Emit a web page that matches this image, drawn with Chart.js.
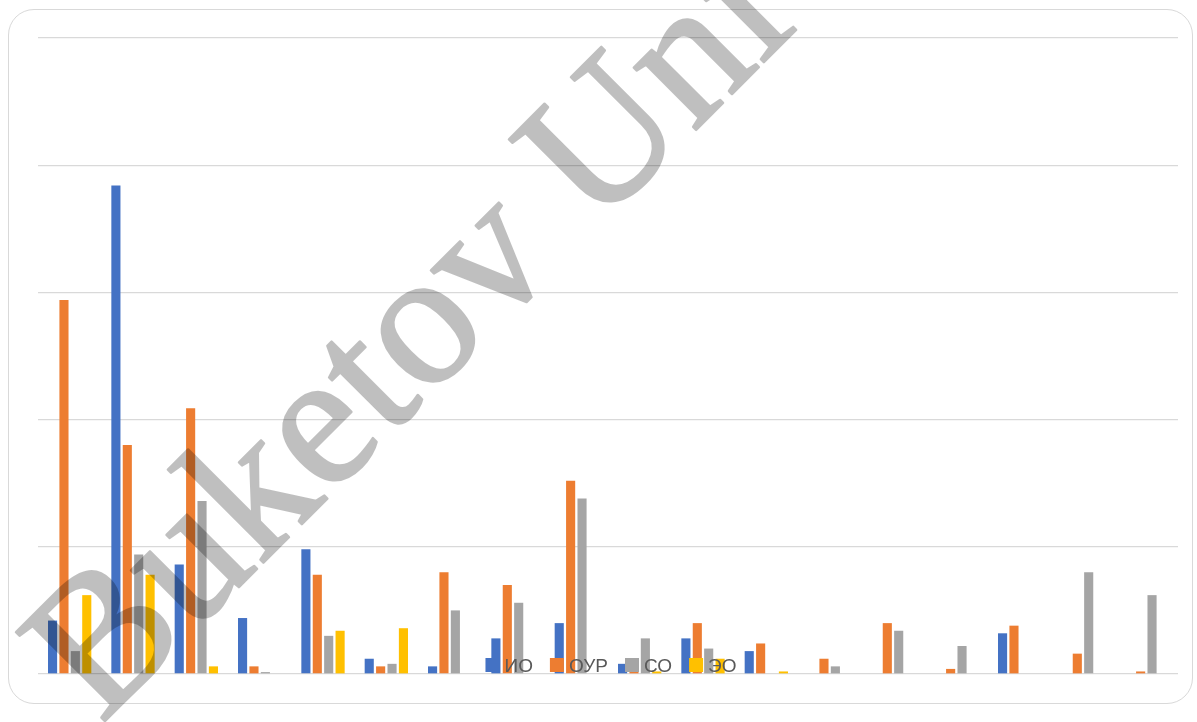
<!DOCTYPE html>
<html lang="ru">
<head>
  <meta charset="UTF-8" />
  <title>ИО / ОУР / СО / ЭО</title>
  <script src="https://cdn.jsdelivr.net/npm/chart.js"></script>
  <style>
    html, body {
      margin: 0;
      padding: 0;
      background: #ffffff;
    }
    .wrap {
      position: relative;
      width: 1197px;
      height: 722px;
    }
    .frame {
      position: absolute;
      left: 8px;
      top: 9px;
      width: 1183px;
      height: 693px;
      border: 1.3px solid #d9d9d9;
      border-radius: 26px;
    }
    canvas {
      position: absolute;
      left: 0;
      top: 0;
    }
  </style>
</head>
<body>
  <div class="wrap">
    <div class="frame"></div>
    <canvas id="chart" width="1197" height="722"></canvas>
  </div>

  <script>
    // категории (подписи на оси не показаны)
    const categories = ['1','2','3','4','5','6','7','8','9','10','11','12','13','14','15','16','17','18'];

    const seriesNames = ['ИО', 'ОУР', 'СО', 'ЭО'];
    const seriesColors = ['#4472C4', '#ED7D31', '#A5A5A5', '#FFC000'];

    const io  = [4.2, 38.4, 8.6, 4.4, 9.8, 1.2, 0.6, 2.8, 4.0, 0.8, 2.8, 1.8, 0, 0, 0, 3.2, 0, 0];
    const our = [29.4, 18.0, 20.9, 0.6, 7.8, 0.6, 8.0, 7.0, 15.2, 0.4, 4.0, 2.4, 1.2, 4.0, 0.4, 3.8, 1.6, 0.2];
    const so  = [1.8, 9.4, 13.6, 0.15, 3.0, 0.8, 5.0, 5.6, 13.8, 2.8, 2.0, 0, 0.6, 3.4, 2.2, 0, 8.0, 6.2];
    const eo  = [6.2, 7.8, 0.6, 0, 3.4, 3.6, 0, 0, 0, 0.2, 1.2, 0.2, 0, 0, 0, 0, 0, 0];

    const yMax = 50;
    const yStep = 10;

    const watermarkText = 'Buketov Uni';

    // легенда поверх области построения, как в оригинале
    const innerLegend = {
      id: 'innerLegend',
      afterDatasetsDraw(chart) {
        const ctx = chart.ctx;
        const area = chart.chartArea;
        const box = 14, gapText = 5, gapItem = 17;
        ctx.save();
        ctx.font = '19px "Liberation Sans", Arial, sans-serif';
        const items = chart.data.datasets.map(ds => ({
          label: ds.label,
          color: ds.backgroundColor,
          w: ctx.measureText(ds.label).width
        }));
        let total = 0;
        items.forEach((it, i) => {
          total += box + gapText + it.w + (i < items.length - 1 ? gapItem : 0);
        });
        let x = (area.left + area.right) / 2 - total / 2 + 3;
        const base = area.bottom - 2;
        ctx.textBaseline = 'alphabetic';
        items.forEach(it => {
          ctx.fillStyle = it.color;
          ctx.fillRect(x, base - box, box, box);
          x += box + gapText;
          ctx.fillStyle = '#595959';
          ctx.fillText(it.label, x, base);
          x += it.w + gapItem;
        });
        ctx.restore();
      }
    };

    // водяной знак (полупрозрачный, поверх графика)
    const watermark = {
      id: 'watermark',
      afterDraw(chart) {
        const off = document.createElement('canvas');
        off.width = chart.width;
        off.height = chart.height;
        const o = off.getContext('2d');
        o.translate(101, 725);
        o.rotate(-Math.PI / 4);
        o.font = '192px "Liberation Serif", "Times New Roman", serif';
        o.fillStyle = '#000';
        o.strokeStyle = '#000';
        o.lineWidth = 2.5;
        o.lineJoin = 'round';
        o.fillText(watermarkText, 0, 0);
        o.strokeText(watermarkText, 0, 0);

        const ctx = chart.ctx;
        ctx.save();
        ctx.globalAlpha = 0.25;
        ctx.drawImage(off, 0, 0);
        ctx.restore();
      }
    };

    const seriesData = [io, our, so, eo];

    new Chart(document.getElementById('chart'), {
      type: 'bar',
      data: {
        labels: categories,
        datasets: seriesNames.map((name, i) => ({
          label: name,
          data: seriesData[i],
          backgroundColor: seriesColors[i],
          borderWidth: 0,
          categoryPercentage: 0.72,
          barPercentage: 0.8
        }))
      },
      options: {
        responsive: false,
        animation: false,
        layout: {
          padding: { left: 38, right: 19, top: 38, bottom: 48 }
        },
        plugins: {
          legend: { display: false },
          tooltip: { enabled: false }
        },
        scales: {
          x: {
            ticks: { display: false },
            grid: { display: false, drawTicks: false },
            border: { display: false },
            afterFit(scale) { scale.height = 0; }
          },
          y: {
            min: 0,
            max: yMax,
            ticks: { display: false, stepSize: yStep },
            grid: { color: '#d9d9d9', lineWidth: 1.3, drawTicks: false },
            border: { display: false },
            afterFit(scale) { scale.width = 0; }
          }
        }
      },
      plugins: [innerLegend, watermark]
    });
  </script>
</body>
</html>
